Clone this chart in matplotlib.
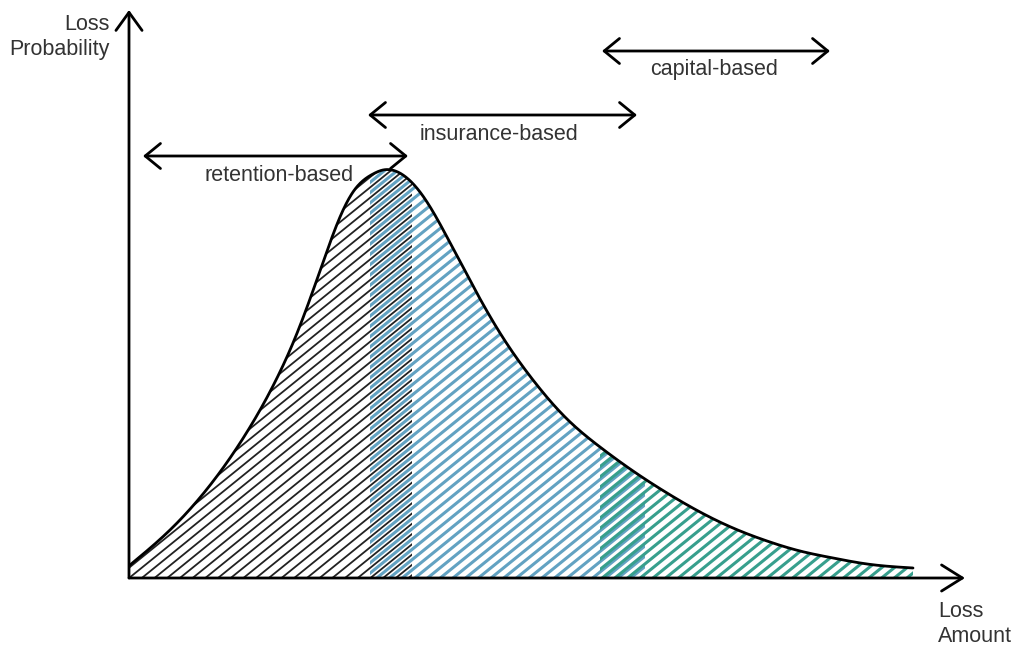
import numpy as np
import matplotlib
matplotlib.use("Agg")
import matplotlib.pyplot as plt
from matplotlib.collections import LineCollection
from matplotlib.patches import Polygon

# ---- data (loss amount vs loss probability, arbitrary units) ----
loss_amount = [1, 41, 74, 118, 148, 164, 181, 198, 211, 224, 244, 254, 274, 291, 298,
               318, 344, 371, 404, 438, 471, 504, 538, 571, 604, 638, 671, 704, 738, 784]
loss_probability = [13, 48, 84, 146, 200, 235, 279, 327, 361, 386, 404, 408, 403, 386, 376,
                    341, 292, 245, 198, 159, 131, 107, 85, 66, 50, 37, 27, 20, 14, 10]

strategy_names = ["retention-based", "insurance-based", "capital-based"]
strategy_start = [0, 241, 471]       # start of shaded range
strategy_end = [283, 516, 784]       # end of shaded range
arrow_start = [14, 239, 473]
arrow_end = [279, 508, 701]
arrow_level = [422, 463, 527]
label_x = [150, 370, 585]
label_y = [397, 438, 503]
hatch_colors = ["#222222", "#62a2c2", "#379f8d"]
hatch_widths = [1.3, 2.2, 2.2]
hatch_phase = [0.0, 0.5, 0.25]

x_axis_end = 836
y_axis_end = 568

TEXT_COLOR = "#333333"
FONT, FS = "Liberation Sans", 15.5


def natural_spline(x, y, xn):
    x = np.asarray(x, float)
    y = np.asarray(y, float)
    n = len(x)
    h = np.diff(x)
    A = np.zeros((n, n))
    b = np.zeros(n)
    A[0, 0] = 1
    A[-1, -1] = 1
    for i in range(1, n - 1):
        A[i, i - 1] = h[i - 1]
        A[i, i] = 2 * (h[i - 1] + h[i])
        A[i, i + 1] = h[i]
        b[i] = 6 * ((y[i + 1] - y[i]) / h[i] - (y[i] - y[i - 1]) / h[i - 1])
    M = np.linalg.solve(A, b)
    idx = np.clip(np.searchsorted(x, xn) - 1, 0, n - 2)
    xi, xi1, hi = x[idx], x[idx + 1], h[idx]
    return (M[idx] * (xi1 - xn) ** 3 / (6 * hi) + M[idx + 1] * (xn - xi) ** 3 / (6 * hi)
            + (y[idx] / hi - M[idx] * hi / 6) * (xi1 - xn)
            + (y[idx + 1] / hi - M[idx + 1] * hi / 6) * (xn - xi))


fig = plt.figure(figsize=(10.15, 6.49), dpi=100)
ax = fig.add_axes([0, 0, 1, 1])
ax.set_xlim(-129, 886)
ax.set_ylim(-71, 578)
ax.axis("off")

xs = np.linspace(loss_amount[0], loss_amount[-1], 1500)
ys = natural_spline(loss_amount, loss_probability, xs)

# ---- hatched regions ----
theta = np.deg2rad(39)
spacing = 12.7
tn = np.tan(theta)
for s, e, col, lw, ph in zip(strategy_start, strategy_end, hatch_colors, hatch_widths, hatch_phase):
    s_c = max(s, loss_amount[0])
    m = (xs >= s_c) & (xs <= e)
    px = np.concatenate([[s_c], xs[m], [e]])
    py = natural_spline(loss_amount, loss_probability, px)
    poly = [(s, 0), (s, py[0])] + list(zip(px, py)) + [(e, 0)]
    clip = Polygon(poly, closed=True, facecolor="none", edgecolor="none",
                   transform=ax.transData)
    ax.add_patch(clip)
    segs = []
    for c in np.arange(-800, 900, spacing) + ph * spacing:
        segs.append([(c - 10 / tn, -10), (c + 600 / tn, 600)])
    lc = LineCollection(segs, colors=col, linewidths=lw, zorder=2)
    ax.add_collection(lc)
    lc.set_clip_path(clip)

# ---- curve ----
ax.plot(xs, ys, color="black", lw=2, zorder=3, solid_capstyle="round")

# ---- axes with open arrow heads ----
ax.annotate("", xy=(0, y_axis_end), xytext=(0, 0),
            arrowprops=dict(arrowstyle="->,head_length=0.65,head_width=0.47",
                            mutation_scale=20, lw=2, color="black",
                            shrinkA=0, shrinkB=0), zorder=4)
ax.annotate("", xy=(x_axis_end, 0), xytext=(0, 0),
            arrowprops=dict(arrowstyle="->,head_length=0.75,head_width=0.47",
                            mutation_scale=20, lw=2, color="black",
                            shrinkA=0, shrinkB=0), zorder=4)

# ---- range arrows and labels ----
for name, a0, a1, lvl, lx, ly in zip(strategy_names, arrow_start, arrow_end,
                                     arrow_level, label_x, label_y):
    ax.annotate("", xy=(a1, lvl), xytext=(a0, lvl),
                arrowprops=dict(arrowstyle="<->,head_length=0.55,head_width=0.45",
                                mutation_scale=20, lw=2, color="black",
                                shrinkA=0, shrinkB=0), zorder=4)
    ax.text(lx, ly, name, ha="center", va="baseline", fontsize=FS,
            color=TEXT_COLOR, family=FONT)

ax.text(-19, 541, "Loss\nProbability", ha="right", va="center", fontsize=FS,
        color=TEXT_COLOR, family=FONT, linespacing=1.3, multialignment="right")
ax.text(809, -46, "Loss\nAmount", ha="left", va="center", fontsize=FS,
        color=TEXT_COLOR, family=FONT, linespacing=1.3, multialignment="left")

fig.savefig("out.png", dpi=100)
